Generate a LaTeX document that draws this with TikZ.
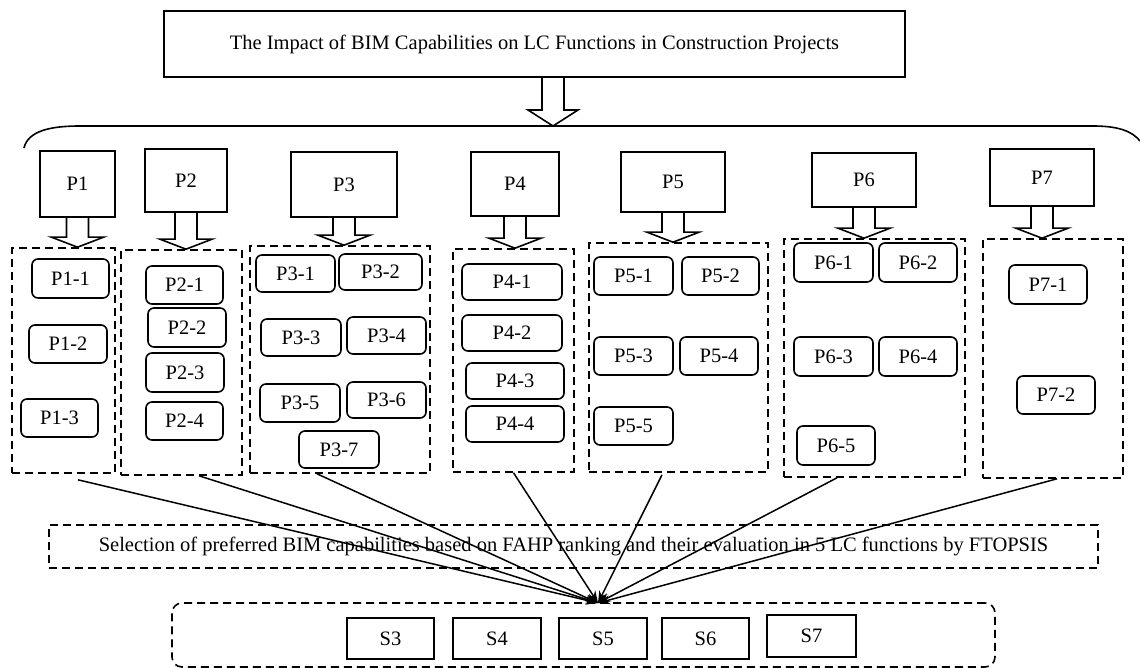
\documentclass[tikz,border=0pt]{standalone}
\usepackage{fontspec}
\setmainfont{Liberation Serif}
\usetikzlibrary{arrows.meta,calc}
\tikzset{
  pbox/.style={draw, line width=1.6pt, inner sep=0pt},
  sub/.style={draw, line width=1.6pt, rounded corners=6pt, inner sep=0pt},
  grp/.style={draw, line width=1.6pt, dash pattern=on 8pt off 5pt, inner sep=0pt},
  hollow/.style={line width=1.6pt, line join=miter},
  link/.style={line width=1.5pt, -{Stealth[length=12pt,width=9pt]}}
}
% hollow block arrow from a box down to the top of its group
\newcommand{\hollowdown}[2]{%
  \draw[hollow] ($(#1.south)+(-11,0)$) -- ($(#1.south |- #2.north)+(-11,-10)$)
    -- ++(-15,0) -- (#1.south |- #2.north) -- ++(26,-10) -- ++(-15,0)
    -- ($(#1.south)+(11,0)$);}
\begin{document}
\begin{tikzpicture}[x=1pt, y=-1pt, font=\fontsize{20.5}{24}\selectfont]
  \useasboundingbox (0,0) rectangle (1140,668);
  % title and brace
  \draw
    (534.5,44) node[pbox, minimum width=741pt, minimum height=66pt] (title)
      {The Impact of BIM Capabilities on LC Functions in Construction Projects};
  \coordinate (btip) at (553,126);
  \draw[hollow] (542,77) -- (542,110) -- (528,110) -- (btip) -- (578,110)
    -- (564,110) -- (564,77);
  \draw[line width=1.6pt] (24,148) .. controls (28,131) and (50,126) .. (80,126)
    -- (1093,126) .. controls (1118,126) and (1132,131) .. (1140,141);
  % main boxes
  \draw
    (77.5,184) node[pbox, minimum width=75pt, minimum height=66pt] (p1) {P1}
    (186,180.5) node[pbox, minimum width=82pt, minimum height=63pt] (p2) {P2}
    (344,184.5) node[pbox, minimum width=106pt, minimum height=65pt] (p3) {P3}
    (515,184) node[pbox, minimum width=88pt, minimum height=64pt] (p4) {P4}
    (673,182) node[pbox, minimum width=104pt, minimum height=60pt] (p5) {P5}
    (864,180) node[pbox, minimum width=104pt, minimum height=54pt] (p6) {P6}
    (1042,177.5) node[pbox, minimum width=104pt, minimum height=57pt] (p7) {P7};
  % dashed groups
  \draw
    (63.5,360.5) node[grp, minimum width=103pt, minimum height=225pt] (g1) {}
    (181.5,362.5) node[grp, minimum width=121pt, minimum height=225pt] (g2) {}
    (340,359.5) node[grp, minimum width=180pt, minimum height=227pt] (g3) {}
    (513.5,360.5) node[grp, minimum width=121pt, minimum height=223pt] (g4) {}
    (678.5,357.5) node[grp, minimum width=179pt, minimum height=229pt] (g5) {}
    (874.5,358) node[grp, minimum width=181pt, minimum height=238pt] (g6) {}
    (1053,358.5) node[grp, minimum width=140pt, minimum height=239pt] (g7) {};
  \foreach \i in {1,...,7}
    \hollowdown{p\i}{g\i};
  % sub capabilities
  \draw
    (70.5,278.5) node[sub, minimum width=77pt, minimum height=39pt] (p11) {P1-1}
    (68,344) node[sub, minimum width=78pt, minimum height=38pt] (p12) {P1-2}
    (59.5,418) node[sub, minimum width=77pt, minimum height=38pt] (p13) {P1-3}
    (184.5,285) node[sub, minimum width=77pt, minimum height=38pt] (p21) {P2-1}
    (187,327.5) node[sub, minimum width=78pt, minimum height=39pt] (p22) {P2-2}
    (185,372.5) node[sub, minimum width=78pt, minimum height=39pt] (p23) {P2-3}
    (184.5,421) node[sub, minimum width=77pt, minimum height=38pt] (p24) {P2-4}
    (295.5,273.5) node[sub, minimum width=79pt, minimum height=37pt] (p31) {P3-1}
    (380.5,272) node[sub, minimum width=83pt, minimum height=36pt] (p32) {P3-2}
    (301,337.5) node[sub, minimum width=80pt, minimum height=37pt] (p33) {P3-3}
    (386.5,335.5) node[sub, minimum width=79pt, minimum height=37pt] (p34) {P3-4}
    (300,403) node[sub, minimum width=80pt, minimum height=38pt] (p35) {P3-5}
    (386.5,400) node[sub, minimum width=79pt, minimum height=36pt] (p36) {P3-6}
    (339,449.5) node[sub, minimum width=80pt, minimum height=37pt] (p37) {P3-7}
    (512,282) node[sub, minimum width=100pt, minimum height=36pt] (p41) {P4-1}
    (512,333) node[sub, minimum width=100pt, minimum height=36pt] (p42) {P4-2}
    (515,381) node[sub, minimum width=98pt, minimum height=36pt] (p43) {P4-3}
    (515,424) node[sub, minimum width=98pt, minimum height=36pt] (p44) {P4-4}
    (633.5,276) node[sub, minimum width=79pt, minimum height=38pt] (p51) {P5-1}
    (720.5,276) node[sub, minimum width=77pt, minimum height=38pt] (p52) {P5-2}
    (633.5,356) node[sub, minimum width=79pt, minimum height=38pt] (p53) {P5-3}
    (719,356) node[sub, minimum width=78pt, minimum height=38pt] (p54) {P5-4}
    (633.5,426) node[sub, minimum width=79pt, minimum height=38pt] (p55) {P5-5}
    (833.5,262.5) node[sub, minimum width=79pt, minimum height=39pt] (p61) {P6-1}
    (918,262.5) node[sub, minimum width=78pt, minimum height=39pt] (p62) {P6-2}
    (833.5,356.5) node[sub, minimum width=79pt, minimum height=39pt] (p63) {P6-3}
    (918,356.5) node[sub, minimum width=78pt, minimum height=39pt] (p64) {P6-4}
    (836,445.5) node[sub, minimum width=78pt, minimum height=39pt] (p65) {P6-5}
    (1048,284.5) node[sub, minimum width=78pt, minimum height=39pt] (p71) {P7-1}
    (1056,395) node[sub, minimum width=78pt, minimum height=38pt] (p72) {P7-2};
  % selection and result
  \draw
    (573.5,546.5) node[grp, minimum width=1049pt, minimum height=43pt] (sel)
      {Selection of preferred BIM capabilities based on FAHP ranking and their evaluation in 5 LC functions by FTOPSIS}
    (583.5,635) node[grp, rounded corners=10pt, minimum width=823pt, minimum height=64pt] (res) {}
    (390.5,638.5) node[pbox, minimum width=87pt, minimum height=41pt] (s3) {S3}
    (497,638.5) node[pbox, minimum width=88pt, minimum height=41pt] (s4) {S4}
    (603,638.5) node[pbox, minimum width=88pt, minimum height=41pt] (s5) {S5}
    (705.5,638.5) node[pbox, minimum width=87pt, minimum height=41pt] (s6) {S6}
    (811.5,636) node[pbox, minimum width=89pt, minimum height=42pt] (s7) {S7};
  \coordinate (hub) at (598,603);
  \begin{scope}[link]
    \draw ([xshift=14.5pt,yshift=-6pt]g1.south) to (hub);
    \draw ([xshift=17.5pt]g2.south) to (hub);
    \draw ([xshift=-23pt]g3.south) to (hub);
    \draw (g4.south) to (hub);
    \draw ([xshift=-16.5pt,yshift=-2pt]g5.south) to (hub);
    \draw ([xshift=-37.5pt]g6.south) to (hub);
    \draw ([xshift=4pt]g7.south) to (hub);
  \end{scope}
\end{tikzpicture}
\end{document}
